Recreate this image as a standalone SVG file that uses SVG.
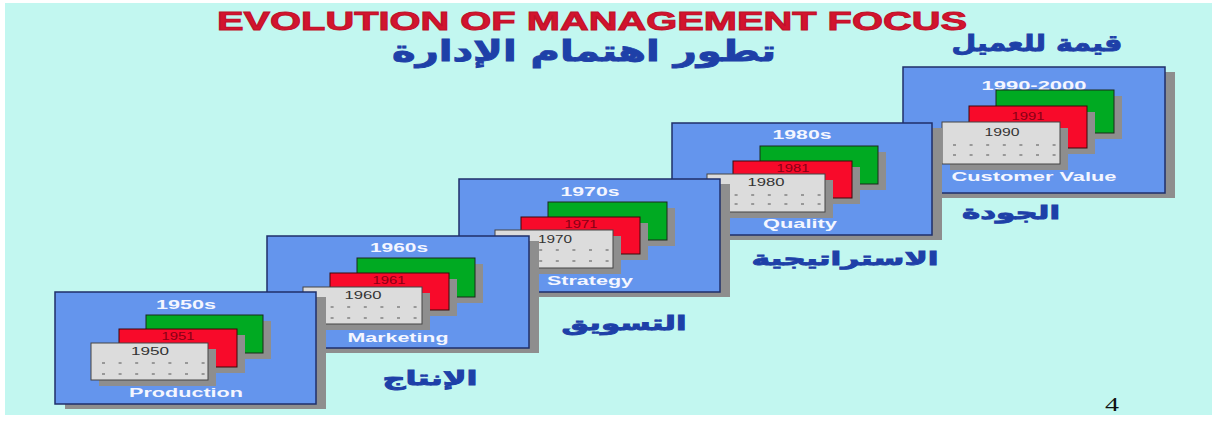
<svg xmlns="http://www.w3.org/2000/svg" width="1215" height="423" viewBox="0 0 1215 423">
<style>
.bg{fill:#C2F7F0}
.pnl{fill:#6495ED;stroke:#1F2F6A;stroke-width:1.5}
.psh{fill:#8E8E8E}
.csh{fill:#8E8E8E}
.g{fill:#00AA22;stroke:#1A2A1A;stroke-width:1}
.r{fill:#F80A2A;stroke:#3A0A0A;stroke-width:1}
.w{fill:#DCDCDC;stroke:#444;stroke-width:1}
.dash{stroke:#555;stroke-width:1;stroke-dasharray:3 13.6}
.pt{font-family:"Liberation Sans",Arial,sans-serif;font-weight:bold;font-size:13px;fill:#F4F6FF;text-anchor:middle}
.yr{font-family:"Liberation Sans",Arial,sans-serif;font-size:10px;fill:#333;text-anchor:middle}
.yr2{font-family:"Liberation Sans",Arial,sans-serif;font-size:10px;fill:#8A0014;text-anchor:middle}
.ar{font-family:"DejaVu Sans",sans-serif;font-weight:bold;fill:#1E40A8;stroke:#1E40A8;stroke-width:0.9;text-anchor:middle}
.ttl{font-family:"Liberation Sans",Arial,sans-serif;font-weight:bold;font-size:25px;fill:#D2142E;stroke:#C0102A;stroke-width:0.9;text-anchor:middle}
</style>
<rect x="0" y="0" width="1215" height="423" fill="#FFFFFF"/>
<rect class="bg" x="5" y="3" width="1207" height="412"/>

<text class="ttl" x="592" y="30" textLength="750" lengthAdjust="spacingAndGlyphs">EVOLUTION OF MANAGEMENT FOCUS</text>
<text class="ar" x="584" y="61" font-size="29" textLength="384" lengthAdjust="spacingAndGlyphs">تطور اهتمام الإدارة</text>
<text class="ar" x="1037" y="51" font-size="23" textLength="171" lengthAdjust="spacingAndGlyphs">قيمة للعميل</text>
<text class="ar" x="1011" y="219" font-size="19" textLength="98" lengthAdjust="spacingAndGlyphs">الجودة</text>
<text class="ar" x="845" y="265" font-size="19" textLength="187" lengthAdjust="spacingAndGlyphs">الاستراتيجية</text>
<text class="ar" x="624" y="330" font-size="20" textLength="125" lengthAdjust="spacingAndGlyphs">التسويق</text>
<text class="ar" x="430" y="385" font-size="20" textLength="95" lengthAdjust="spacingAndGlyphs">الإنتاج</text>
<text x="1112" y="411" font-family="Liberation Serif,serif" font-size="18" fill="#111" text-anchor="middle" textLength="14" lengthAdjust="spacingAndGlyphs">4</text>

<g id="panel-1990">
<rect class="psh" x="913" y="72" width="262" height="126"/>
<rect class="pnl" x="903" y="67" width="262" height="126"/>
<text class="pt" x="1034" y="90" textLength="105" lengthAdjust="spacingAndGlyphs">1990-2000</text>
<rect class="csh" x="1004" y="96" width="118" height="43"/>
<rect class="g" x="996" y="90" width="118" height="43"/>
<rect class="csh" x="977" y="112" width="118" height="42"/>
<rect class="r" x="969" y="106" width="118" height="42"/>
<text class="yr2" x="1028" y="120" textLength="33" lengthAdjust="spacingAndGlyphs">1991</text>
<rect class="csh" x="950" y="128" width="118" height="42"/>
<rect class="w" x="942" y="122" width="118" height="42"/>
<text class="yr" x="1002" y="136" textLength="35" lengthAdjust="spacingAndGlyphs">1990</text>
<line class="dash" x1="953" y1="145" x2="1059" y2="145"/>
<line class="dash" x1="953" y1="155" x2="1059" y2="155"/>
<text class="pt" x="1034" y="181" textLength="165" lengthAdjust="spacingAndGlyphs">Customer Value</text>
</g>

<g id="panel-1980">
<rect class="psh" x="682" y="128" width="260" height="112"/>
<rect class="pnl" x="672" y="123" width="260" height="112"/>
<text class="pt" x="802" y="139" textLength="59" lengthAdjust="spacingAndGlyphs">1980s</text>
<rect class="csh" x="768" y="152" width="118" height="38"/>
<rect class="g" x="760" y="146" width="118" height="38"/>
<rect class="csh" x="741" y="167" width="119" height="37"/>
<rect class="r" x="733" y="161" width="119" height="37"/>
<text class="yr2" x="793" y="172" textLength="33" lengthAdjust="spacingAndGlyphs">1981</text>
<rect class="csh" x="715" y="180" width="118" height="38"/>
<rect class="w" x="707" y="174" width="118" height="38"/>
<text class="yr" x="766" y="186" textLength="37" lengthAdjust="spacingAndGlyphs">1980</text>
<line class="dash" x1="718" y1="195" x2="824" y2="195"/>
<line class="dash" x1="718" y1="204" x2="824" y2="204"/>
<text class="pt" x="800" y="228" textLength="74" lengthAdjust="spacingAndGlyphs">Quality</text>
</g>

<g id="panel-1970">
<rect class="psh" x="469" y="184" width="261" height="113"/>
<rect class="pnl" x="459" y="179" width="261" height="113"/>
<text class="pt" x="590" y="196" textLength="59" lengthAdjust="spacingAndGlyphs">1970s</text>
<rect class="csh" x="556" y="208" width="119" height="38"/>
<rect class="g" x="548" y="202" width="119" height="38"/>
<rect class="csh" x="529" y="223" width="119" height="37"/>
<rect class="r" x="521" y="217" width="119" height="37"/>
<text class="yr2" x="581" y="228" textLength="33" lengthAdjust="spacingAndGlyphs">1971</text>
<rect class="csh" x="503" y="236" width="118" height="38"/>
<rect class="w" x="495" y="230" width="118" height="38"/>
<text class="yr" x="555" y="243" textLength="34" lengthAdjust="spacingAndGlyphs">1970</text>
<line class="dash" x1="506" y1="250" x2="612" y2="250"/>
<line class="dash" x1="506" y1="261" x2="612" y2="261"/>
<text class="pt" x="590" y="285" textLength="86" lengthAdjust="spacingAndGlyphs">Strategy</text>
</g>

<g id="panel-1960">
<rect class="psh" x="277" y="241" width="262" height="112"/>
<rect class="pnl" x="267" y="236" width="262" height="112"/>
<text class="pt" x="399" y="252" textLength="58" lengthAdjust="spacingAndGlyphs">1960s</text>
<rect class="csh" x="365" y="264" width="118" height="39"/>
<rect class="g" x="357" y="258" width="118" height="39"/>
<rect class="csh" x="338" y="279" width="119" height="37"/>
<rect class="r" x="330" y="273" width="119" height="37"/>
<text class="yr2" x="389" y="284" textLength="33" lengthAdjust="spacingAndGlyphs">1961</text>
<rect class="csh" x="311" y="293" width="119" height="37"/>
<rect class="w" x="303" y="287" width="119" height="37"/>
<text class="yr" x="363" y="299" textLength="37" lengthAdjust="spacingAndGlyphs">1960</text>
<line class="dash" x1="314" y1="307" x2="421" y2="307"/>
<line class="dash" x1="314" y1="318" x2="421" y2="318"/>
<text class="pt" x="398" y="342" textLength="101" lengthAdjust="spacingAndGlyphs">Marketing</text>
</g>

<g id="panel-1950">
<rect class="psh" x="65" y="297" width="261" height="112"/>
<rect class="pnl" x="55" y="292" width="261" height="112"/>
<text class="pt" x="186" y="309" textLength="60" lengthAdjust="spacingAndGlyphs">1950s</text>
<rect class="csh" x="154" y="321" width="117" height="38"/>
<rect class="g" x="146" y="315" width="117" height="38"/>
<rect class="csh" x="127" y="335" width="118" height="38"/>
<rect class="r" x="119" y="329" width="118" height="38"/>
<text class="yr2" x="178" y="340" textLength="33" lengthAdjust="spacingAndGlyphs">1951</text>
<rect class="csh" x="99" y="349" width="117" height="37"/>
<rect class="w" x="91" y="343" width="117" height="37"/>
<text class="yr" x="150" y="355" textLength="38" lengthAdjust="spacingAndGlyphs">1950</text>
<line class="dash" x1="102" y1="363" x2="207" y2="363"/>
<line class="dash" x1="102" y1="374" x2="207" y2="374"/>
<text class="pt" x="186" y="397" textLength="114" lengthAdjust="spacingAndGlyphs">Production</text>
</g>
</svg>
